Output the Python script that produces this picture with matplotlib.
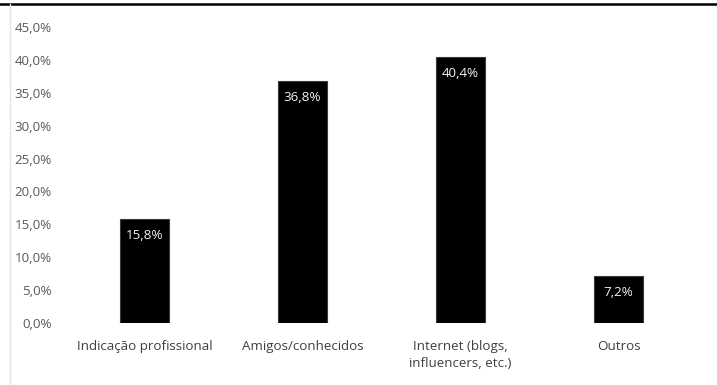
import matplotlib.pyplot as plt
from matplotlib.lines import Line2D
from matplotlib.ticker import FuncFormatter

categories = [
    "Indicação profissional",
    "Amigos/conhecidos",
    "Internet (blogs,\ninfluencers, etc.)",
    "Outros",
]
shares = [15.8, 36.8, 40.4, 7.2]
y_ticks = [0, 5, 10, 15, 20, 25, 30, 35, 40, 45]

plt.rcParams["font.family"] = ["Open Sans", "DejaVu Sans"]
FS = 9.6

fig = plt.figure(figsize=(7.17, 3.85), dpi=100)
ax = fig.add_axes([65.5 / 717, 62 / 385, 632 / 717, 296 / 385])

x = range(len(categories))
bars = ax.bar(x, shares, width=0.31, color="black", edgecolor="#3a3a3a", linewidth=0.8)

for bar, val in zip(bars, shares):
    ax.annotate(
        f"{val:.1f}%".replace(".", ","),
        xy=(bar.get_x() + bar.get_width() / 2, val),
        xytext=(0, -12),
        textcoords="offset points",
        ha="center",
        va="center",
        color="#f2f2f2",
        fontsize=FS,
    )

ax.set_xlim(-0.5, len(categories) - 0.5)
ax.set_ylim(0, 45)
ax.set_yticks(y_ticks)
ax.yaxis.set_major_formatter(FuncFormatter(lambda v, _: f"{v:.1f}%".replace(".", ",")))
ax.set_xticks(list(x))
ax.set_xticklabels(categories, fontsize=FS, color="#404040", linespacing=1.45, va="top")
ax.tick_params(axis="y", labelsize=FS, labelcolor="#595959", length=0, pad=10)
ax.tick_params(axis="x", length=0, pad=12)

for side in ["top", "right", "left", "bottom"]:
    ax.spines[side].set_visible(False)

# frame lines around the chart
fig.add_artist(Line2D([0, 1], [1 - 3.5 / 385, 1 - 3.5 / 385], color="black", linewidth=1.8))
fig.add_artist(Line2D([9.5 / 717, 9.5 / 717], [0, 1 - 4 / 385], color="#e4e4e4", linewidth=1.0))

fig.savefig("out.png", dpi=100)
